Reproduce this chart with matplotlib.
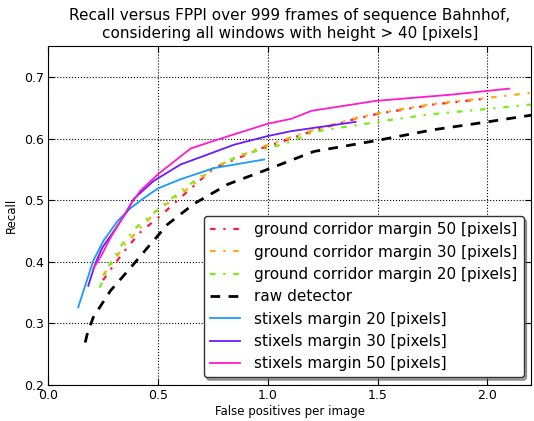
import matplotlib
matplotlib.use('Agg')
import matplotlib.pyplot as plt

# FPPI (x) and recall (y)
gc50_x = [0.25, 0.30, 0.36, 0.42, 0.51, 0.65, 0.755, 0.85, 0.97, 1.09, 1.21, 1.40, 1.50, 1.75, 2.00]
gc50_y = [0.370, 0.395, 0.423, 0.448, 0.474, 0.519, 0.552, 0.566, 0.584, 0.598, 0.613, 0.632, 0.640, 0.655, 0.665]

gc30_x = [0.25, 0.30, 0.35, 0.42, 0.50, 0.65, 0.755, 0.85, 0.97, 1.09, 1.21, 1.40, 1.50, 1.75, 2.00, 2.22]
gc30_y = [0.378, 0.402, 0.428, 0.455, 0.484, 0.522, 0.553, 0.568, 0.586, 0.600, 0.614, 0.633, 0.641, 0.656, 0.666, 0.675]

gc20_x = [0.235, 0.28, 0.34, 0.40, 0.48, 0.62, 0.74, 0.88, 1.00, 1.107, 1.21, 1.50, 1.73, 2.00, 2.22]
gc20_y = [0.358, 0.395, 0.430, 0.455, 0.479, 0.519, 0.550, 0.574, 0.584, 0.595, 0.611, 0.627, 0.639, 0.648, 0.656]

raw_x = [0.169, 0.18, 0.206, 0.284, 0.375, 0.453, 0.545, 0.664, 0.82, 1.00, 1.21, 1.50, 1.75, 2.00, 2.22]
raw_y = [0.269, 0.285, 0.310, 0.353, 0.390, 0.423, 0.461, 0.494, 0.526, 0.550, 0.579, 0.597, 0.614, 0.627, 0.639]

st20_x = [0.137, 0.206, 0.252, 0.316, 0.375, 0.435, 0.50, 0.604, 0.755, 0.984]
st20_y = [0.326, 0.402, 0.434, 0.466, 0.487, 0.503, 0.519, 0.534, 0.552, 0.566]

st30_x = [0.183, 0.215, 0.247, 0.30, 0.36, 0.39, 0.48, 0.604, 0.726, 0.847, 1.00, 1.107, 1.40]
st30_y = [0.361, 0.397, 0.423, 0.450, 0.482, 0.502, 0.531, 0.558, 0.574, 0.590, 0.604, 0.612, 0.627]

st50_x = [0.206, 0.247, 0.284, 0.33, 0.375, 0.42, 0.50, 0.65, 0.787, 1.00, 1.107, 1.20, 1.49, 1.83, 2.10]
st50_y = [0.389, 0.413, 0.439, 0.466, 0.493, 0.515, 0.542, 0.584, 0.600, 0.624, 0.632, 0.645, 0.661, 0.671, 0.681]

fig = plt.figure(figsize=(5.34, 4.21), dpi=100)
ax = fig.add_axes([0.09, 0.0855, 0.905, 0.805])

dashdot = (0, (2.5, 3.5, 1, 3.5))
ax.plot(gc50_x, gc50_y, color='#ff1a3a', ls=dashdot, lw=1.6, label='ground corridor margin 50 [pixels]')
ax.plot(gc30_x, gc30_y, color='#ffaa11', ls=dashdot, lw=1.6, label='ground corridor margin 30 [pixels]')
ax.plot(gc20_x, gc20_y, color='#77ee11', ls=dashdot, lw=1.6, label='ground corridor margin 20 [pixels]')
ax.plot(raw_x, raw_y, color='black', ls=(0, (3.5, 3)), lw=2, label='raw detector')
ax.plot(st20_x, st20_y, color='#1a99ff', lw=1.3, label='stixels margin 20 [pixels]')
ax.plot(st30_x, st30_y, color='#6a1aff', lw=1.3, label='stixels margin 30 [pixels]')
ax.plot(st50_x, st50_y, color='#ff1acc', lw=1.3, label='stixels margin 50 [pixels]')

ax.set_xlim(0, 2.2)
ax.set_ylim(0.2, 0.75)
ax.set_xticks([0.0, 0.5, 1.0, 1.5, 2.0])
ax.set_yticks([0.2, 0.3, 0.4, 0.5, 0.6, 0.7])
ax.tick_params(direction='in', top=True, right=True, labelsize=9, length=4, pad=3)
ax.grid(True, color='black', ls=':', lw=0.8)

ax.set_xlabel('False positives per image', fontsize=8.5, labelpad=2)
ax.set_ylabel('Recall', fontsize=8.5, labelpad=4)
ax.set_title('Recall versus FPPI over 999 frames of sequence Bahnhof,\n'
             'considering all windows with height > 40 [pixels]', fontsize=11)

leg = ax.legend(loc='lower right', fontsize=11, fancybox=True, shadow=True,
                framealpha=1, handlelength=2.0, handletextpad=0.9,
                labelspacing=0.48, borderpad=0.4, borderaxespad=0.5)
leg.get_frame().set_edgecolor('#333333')

fig.savefig('out.png', dpi=100)
